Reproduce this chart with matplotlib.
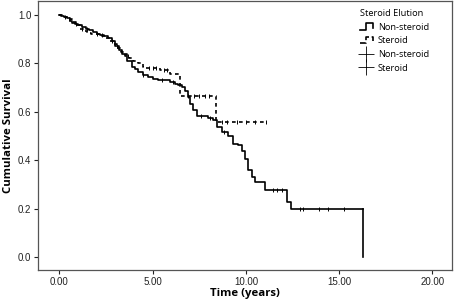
import matplotlib
matplotlib.use("Agg")
import matplotlib.pyplot as plt
import numpy as np
from matplotlib.legend_handler import HandlerBase
from matplotlib.lines import Line2D

# Kaplan-Meier steps: (time, survival after the step)
ns_time = [0, 0.1, 0.25, 0.4, 0.55, 0.7, 0.85, 1.0, 1.2, 1.4, 1.6, 1.8, 2.0, 2.2,
           2.4, 2.6, 2.8, 3.0, 3.2, 3.35, 3.6, 3.88, 4.05, 4.24, 4.5, 4.77, 5.0,
           5.3, 5.94, 6.2, 6.38, 6.55, 6.74, 6.92, 7.0, 7.19, 7.37, 7.97, 8.26,
           8.44, 8.7, 9.06, 9.33, 9.6, 9.78, 9.96, 10.13, 10.3, 10.5, 11.0,
           12.2, 12.4]
ns_surv = [1.0, 0.995, 0.99, 0.985, 0.975, 0.965, 0.96, 0.955, 0.948, 0.942,
           0.936, 0.928, 0.922, 0.916, 0.91, 0.903, 0.89, 0.87, 0.855, 0.838,
           0.81, 0.783, 0.775, 0.763, 0.752, 0.742, 0.736, 0.729, 0.722, 0.715,
           0.708, 0.70, 0.685, 0.66, 0.633, 0.605, 0.582, 0.575, 0.564, 0.537,
           0.516, 0.50, 0.468, 0.461, 0.44, 0.407, 0.359, 0.33, 0.31, 0.276,
           0.226, 0.198]
ns_end = 16.3
ns_censor = [0.3, 0.9, 1.5, 2.3, 3.1, 4.5, 5.5, 6.1, 7.6, 8.1, 8.8, 11.47, 11.69,
             11.92, 12.9, 13.08, 13.9, 14.42, 15.28]

st_time = [0, 0.15, 0.3, 0.5, 0.7, 0.9, 1.1, 1.3, 1.5, 1.7, 1.9, 2.1, 2.3, 2.5,
           2.7, 2.9, 3.1, 3.3, 3.52, 3.75, 3.97, 4.24, 4.5, 4.6, 5.4, 5.94, 6.47,
           8.38]
st_surv = [1.0, 0.995, 0.99, 0.98, 0.968, 0.955, 0.942, 0.932, 0.926, 0.921,
           0.918, 0.915, 0.912, 0.905, 0.892, 0.877, 0.862, 0.847, 0.83, 0.82,
           0.81, 0.8, 0.786, 0.778, 0.77, 0.756, 0.666, 0.557]
st_end = 11.07
st_censor = [0.5, 1.2, 2.0, 2.8, 3.7, 4.8, 5.0, 5.2, 5.6, 5.75, 6.9, 7.2, 7.5,
             7.8, 8.0, 8.7, 9.0, 9.5, 10.0, 10.5, 11.07]

xticks = [0, 5, 10, 15, 20]
yticks = [0.0, 0.2, 0.4, 0.6, 0.8, 1.0]
legend_labels = ["Non-steroid", "Steroid", "Non-steroid", "Steroid"]


def step_value(times, surv, t):
    idx = np.searchsorted(times, t, side="right") - 1
    return np.asarray(surv)[idx]


class StepHandler(HandlerBase):
    def create_artists(self, legend, orig_handle, xdescent, ydescent,
                       width, height, fontsize, trans):
        x0 = -xdescent
        xs = [x0, x0 + width * 0.5, x0 + width * 0.5, x0 + width, x0 + width]
        ys = [0, 0, height, height, height * 0.3]
        ln = Line2D(xs, ys, color=orig_handle.get_color(),
                    linestyle=orig_handle.get_linestyle(),
                    lw=orig_handle.get_linewidth())
        ln.set_transform(trans)
        return [ln]


fig = plt.figure(figsize=(4.54, 3.04), dpi=100)
ax = fig.add_axes([0.084, 0.112, 0.912, 0.886])

lw = 1.2
ax.step(ns_time + [ns_end], ns_surv + [ns_surv[-1]], where="post",
        color="black", lw=lw)
ax.plot([ns_end, ns_end], [ns_surv[-1], 0.0], color="black", lw=lw)
ax.step(st_time + [st_end], st_surv + [st_surv[-1]], where="post",
        color="black", lw=lw, linestyle=(0, (2.2, 2.0)))

ax.plot(ns_censor, step_value(ns_time, ns_surv, ns_censor), linestyle="none",
        marker="|", markersize=3.5, color="black", mew=0.7)
ax.plot(st_censor, step_value(st_time, st_surv, st_censor), linestyle="none",
        marker="|", markersize=3.5, color="black", mew=0.7)

ax.set_xlim(-1.14, 21.06)
ax.set_ylim(-0.052, 1.0575)
ax.set_xticks(xticks)
ax.set_xticklabels([f"{v:.2f}" for v in xticks])
ax.set_yticks(yticks)
ax.set_yticklabels([f"{v:.1f}" for v in yticks])
ax.tick_params(direction="out", length=3, width=0.8, colors="#222222",
               labelsize=7, pad=2)
for lab in ax.get_xticklabels() + ax.get_yticklabels():
    lab.set_fontfamily("Liberation Sans")
for sp in ax.spines.values():
    sp.set_color("#555555")
    sp.set_linewidth(0.9)

ax.set_xlabel("Time (years)", fontsize=8.2, fontweight="bold",
              fontfamily="Open Sans", labelpad=1)
ax.set_ylabel("Cumulative Survival", fontsize=8.2, fontweight="bold",
              fontfamily="Open Sans", labelpad=3)

h1 = Line2D([], [], color="black", lw=1.2)
h2 = Line2D([], [], color="black", lw=1.2, linestyle=(0, (1.5, 1.5)))
h3 = Line2D([], [], color="black", lw=0, marker="+", markersize=11, mew=0.6)
h4 = Line2D([], [], color="black", lw=0, marker="+", markersize=11, mew=0.6)
leg = ax.legend([h1, h2, h3, h4], legend_labels, title="Steroid Elution",
                loc="upper left", bbox_to_anchor=(0.757, 1.0), frameon=False,
                handlelength=1.4, handletextpad=0.5, labelspacing=0.5,
                prop={"family": "Open Sans", "size": 6.7},
                handler_map={h1: StepHandler(), h2: StepHandler()})
leg.get_title().set_fontfamily("Open Sans")
leg.get_title().set_fontsize(6.7)
leg._legend_box.align = "left"

fig.savefig("out.png", dpi=100)
